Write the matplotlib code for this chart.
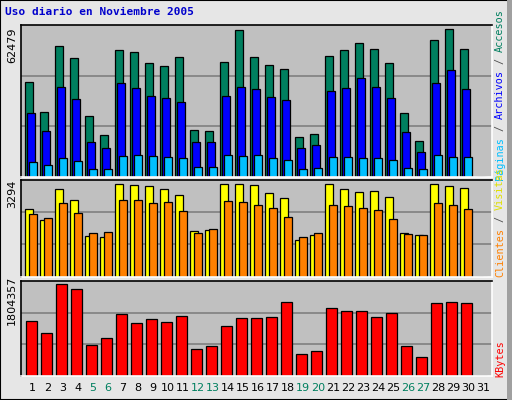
import matplotlib
matplotlib.use("agg")
import matplotlib.pyplot as plt
from matplotlib.patches import Rectangle
import numpy as np

days = list(range(1, 32))
weekend = [5, 6, 12, 13, 19, 20, 26, 27]

# top panel: accesos (hits), archivos (files), paginas (pages)
accesos = [40000, 27300, 55300, 50200, 25600, 17500, 53600, 52700, 48100, 46800, 50600,
           19700, 19200, 48500, 62100, 50600, 47200, 45500, 16700, 18000, 51000, 53600,
           56500, 54000, 48100, 26900, 15000, 57800, 62479, 54000, 0]
archivos = [26900, 19200, 37900, 32800, 14600, 12000, 39600, 37500, 34100, 33200, 31500,
            14600, 14600, 34100, 37900, 37000, 33600, 32400, 12000, 13300, 36200, 37500,
            41700, 37900, 33200, 18800, 10300, 39600, 45100, 37000, 0]
paginas = [6100, 4800, 7800, 6500, 3100, 3100, 8600, 9000, 8600, 8200, 7800,
           4000, 4000, 9000, 8600, 9000, 7800, 6900, 3100, 3500, 8200, 8200,
           7800, 7800, 6900, 3500, 3100, 9000, 8200, 8200, 0]

# middle panel: visitas, clientes
visitas = [2400, 2010, 3115, 2720, 1440, 1400, 3294, 3260, 3220, 3115, 2900,
           1620, 1650, 3294, 3294, 3260, 2970, 2795, 1300, 1475, 3294, 3115,
           3010, 3045, 2830, 1545, 1475, 3294, 3220, 3150, 0]
clientes = [2225, 2080, 2615, 2260, 1545, 1580, 2720, 2720, 2615, 2650, 2330,
            1545, 1690, 2685, 2650, 2545, 2440, 2115, 1400, 1545, 2545, 2510,
            2440, 2365, 2045, 1510, 1475, 2615, 2545, 2400, 0]

# bottom panel: KBytes
kbytes = [1073400, 836300, 1804357, 1705600, 599200, 737500, 1211600, 1033800,
          1112800, 1053600, 1172100, 520200, 579500, 974500, 1132600, 1132600,
          1152300, 1448700, 421400, 480700, 1330100, 1270800, 1270800, 1152300,
          1231300, 579500, 362200, 1428900, 1448700, 1428900, 0]

W, H = 512, 400
fig = plt.figure(figsize=(W / 100, H / 100), dpi=100)
fig.patch.set_facecolor('#e6e6e6')
fig.add_artist(Rectangle((0, 0), 1, 1, transform=fig.transFigure, fill=False,
                         edgecolor='black', linewidth=1.5))
fig.add_artist(Rectangle((507 / W, 0), 5 / W, 1, transform=fig.transFigure,
                         facecolor='#a0a0a0', edgecolor='none'))

mono = 'DejaVu Sans Mono'
x = np.arange(31)
left, right = 20.7, 491.7


def make_ax(top, bottom, ymax):
    ax = fig.add_axes([left / W, 1 - bottom / H, (right - left) / W, (bottom - top) / H])
    ax.set_facecolor('#c0c0c0')
    ax.set_xlim(-0.707, 30.69)
    ax.set_ylim(0, ymax)
    for g in (ymax / 3, 2 * ymax / 3):
        ax.axhline(g, color='#808080', linewidth=1.2, zorder=0)
    ax.set_xticks([])
    ax.set_yticks([])
    ax.spines['top'].set_color('black')
    ax.spines['left'].set_color('black')
    ax.spines['right'].set_color('white')
    ax.spines['bottom'].set_color('white')
    for s in ax.spines.values():
        s.set_linewidth(1.2)
    return ax


ax1 = make_ax(25, 176.7, 64330)
bw = 7.3 / 15
ax1.bar(x - 0.4, accesos, width=bw, align='edge', color='#007f5f', edgecolor='black', lw=0.9)
ax1.bar(x - 0.27, archivos, width=bw, align='edge', color='#0000ff', edgecolor='black', lw=0.9)
ax1.bar(x - 0.13, paginas, width=bw, align='edge', color='#00bfff', edgecolor='black', lw=0.9)

ax2 = make_ax(180, 276.7, 3449)
ax2.bar(x - 0.4, visitas, width=8 / 15, align='edge', color='#ffff00', edgecolor='black', lw=0.9)
ax2.bar(x - 0.13, clientes, width=7.4 / 15, align='edge', color='#ff8000', edgecolor='black', lw=0.9)

ax3 = make_ax(281, 375.7, 1870000)
ax3.bar(x - 0.35, kbytes, width=10.5 / 15, align='edge', color='#ff0000', edgecolor='black', lw=0.9)

# day labels
for d in days:
    c = '#007f5f' if d in weekend else 'black'
    ax3.text(d - 1 + 0.1, -0.13, str(d), transform=ax3.get_xaxis_transform(),
             ha='center', va='center', fontsize=8, color=c, family='DejaVu Sans')

fig.text(5 / W, 1 - 12 / H, 'Uso diario en Noviembre 2005', color='#0000cc',
         fontsize=8, fontweight='bold', family=mono, va='center')

fig.text(12 / W, 1 - 45 / H, '62479', rotation=90, fontsize=8, ha='center', va='center', family='DejaVu Sans')
fig.text(12 / W, 1 - 194 / H, '3294', rotation=90, fontsize=8, ha='center', va='center', family='DejaVu Sans')
fig.text(12 / W, 1 - 300 / H, '1804357', rotation=90, fontsize=8, ha='center', va='center', family='DejaVu Sans')

FS = 7.3
ADV = 0.602 * FS / 72 * 100  # px per monospace char


def side_label(parts, y0):
    pos = 0
    for p, c in parts:
        lead = len(p) - len(p.lstrip())
        word = p.strip()
        yb = y0 - (pos + lead) * ADV
        fig.text(500 / W, 1 - yb / H, word, rotation=90, color=c, fontsize=FS,
                 family=mono, ha='center', va='bottom')
        pos += len(p)


side_label([('Páginas', '#00bfff'), (' / ', '#505050'), ('Archivos', '#0000ff'),
            (' / ', '#505050'), ('Accesos', '#007f5f')], 180)
side_label([('Clientes', '#ff8000'), (' / ', '#505050'), ('Visitas', '#e0e000')], 277)
side_label([('KBytes', '#ff0000')], 377)

fig.savefig('out.png', dpi=100, facecolor=fig.get_facecolor())
